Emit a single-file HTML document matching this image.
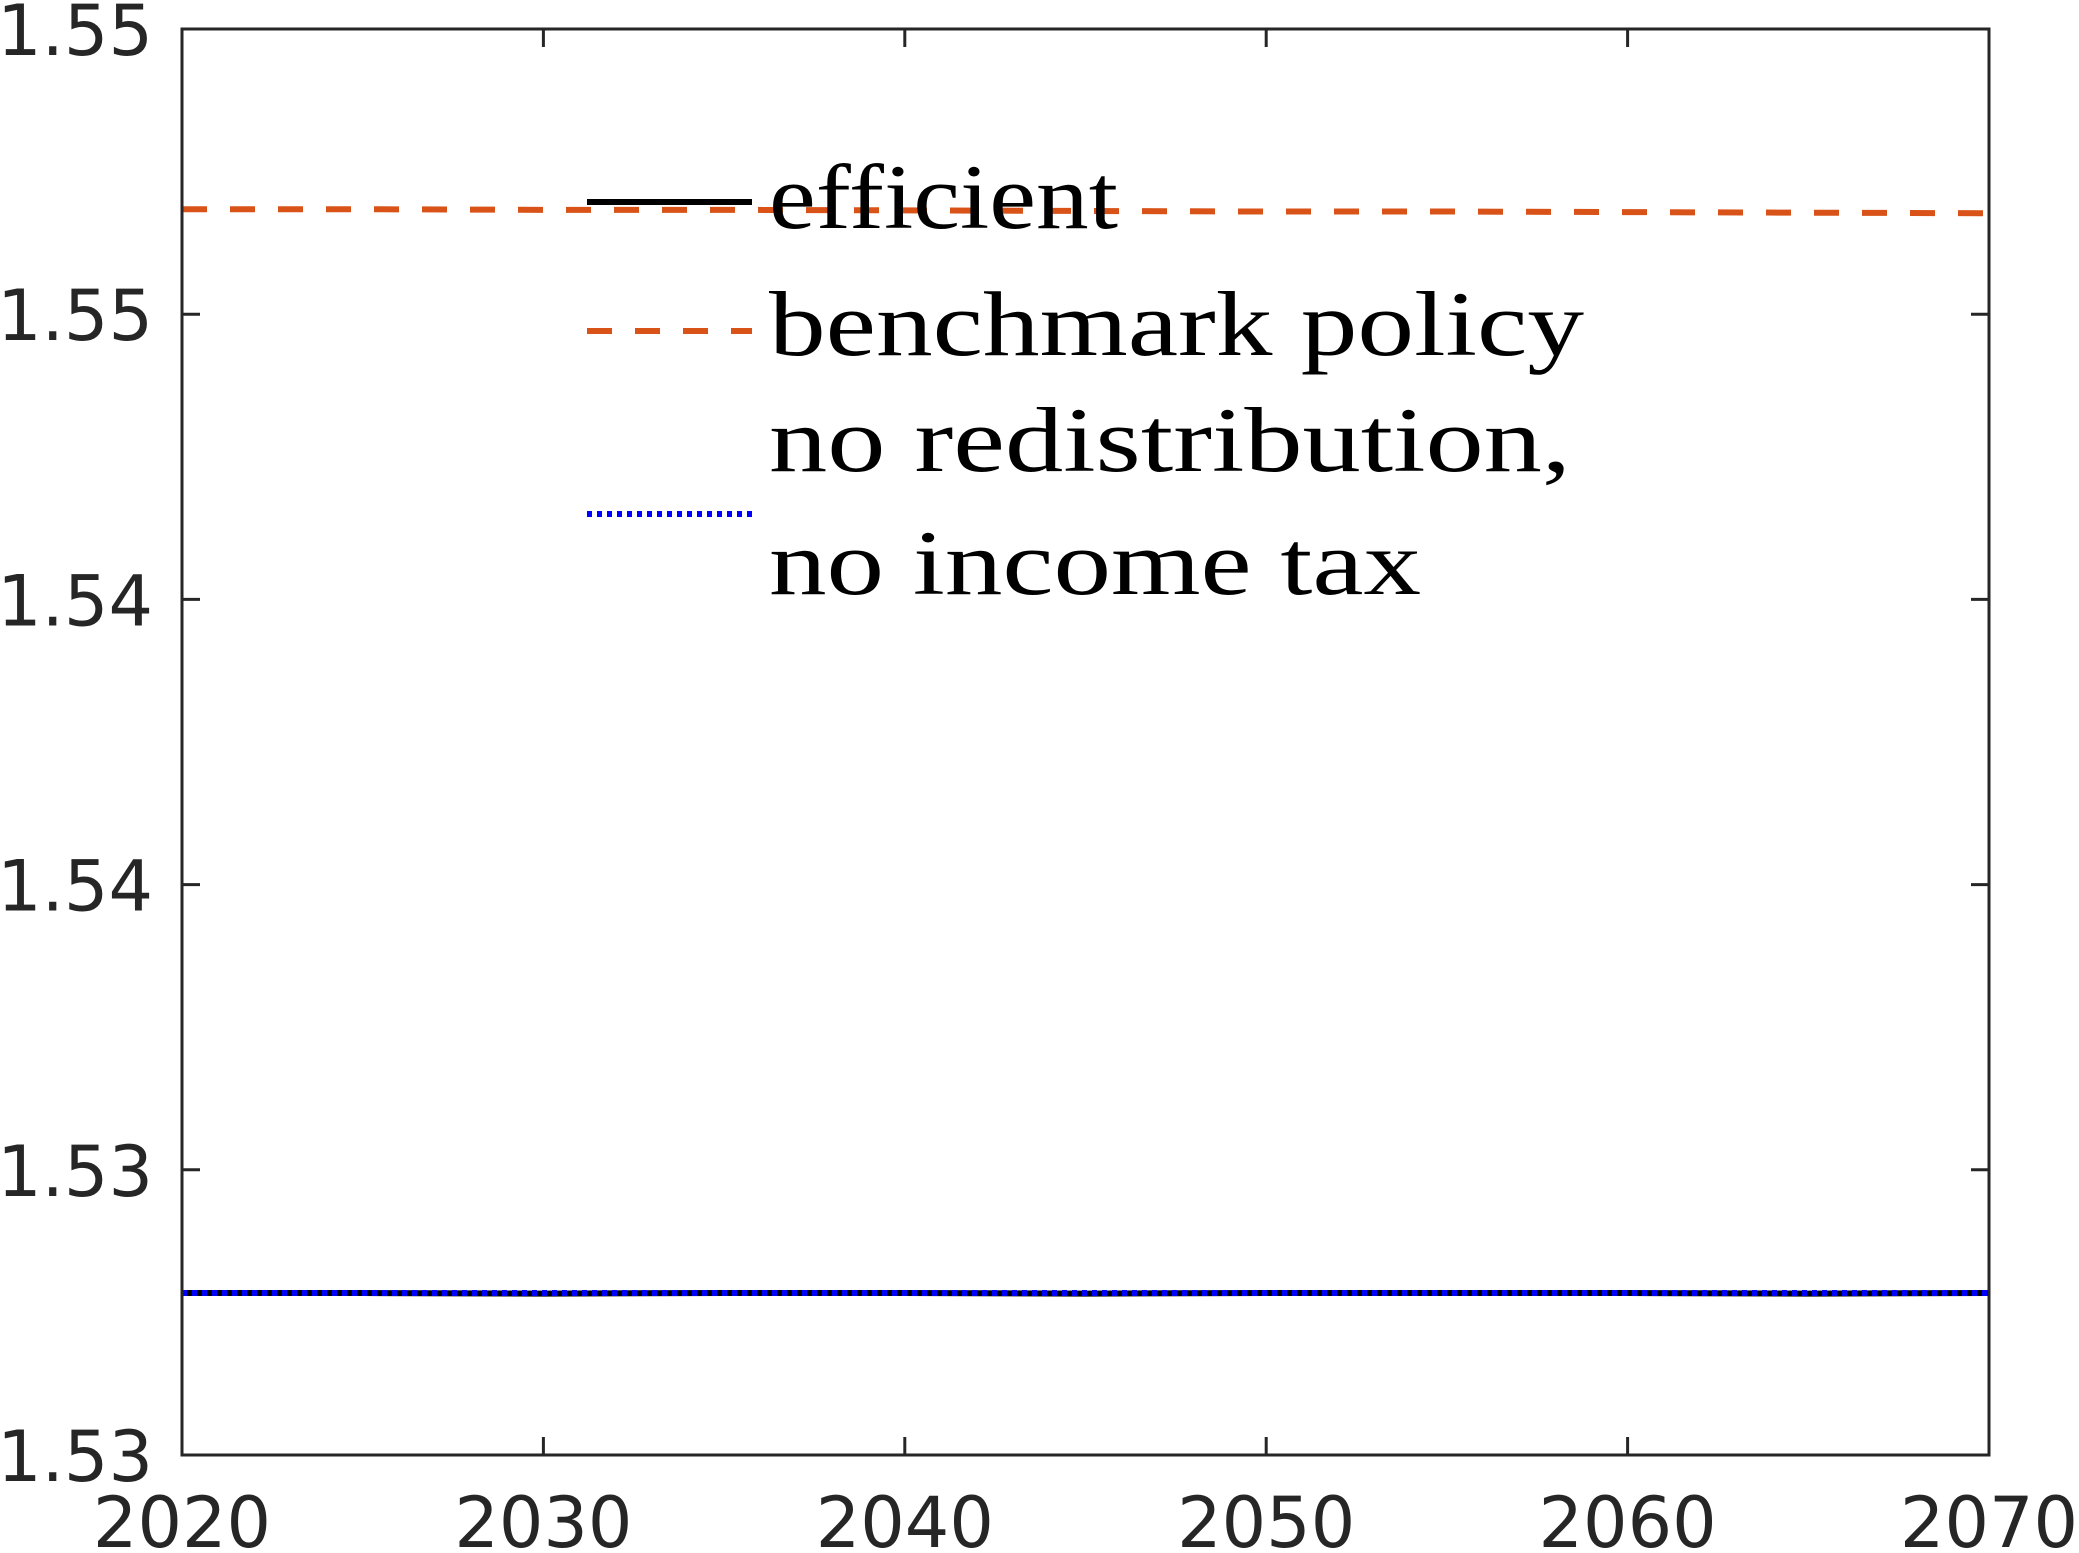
<!DOCTYPE html>
<html><head><meta charset="utf-8"><style>
html,body{margin:0;padding:0;background:#fff;}
svg{display:block;}
</style></head><body>
<svg id="chart" width="2079" height="1553" viewBox="0 0 2079 1553" xmlns="http://www.w3.org/2000/svg">
<rect x="0" y="0" width="2079" height="1553" fill="#fff"/>
<g id="plot"></g>
</svg>
<script>
const years = [2020,2025,2030,2035,2040,2045,2050,2055,2060,2065,2070];
const efficient = [1.52784,1.52784,1.52783,1.52784,1.52784,1.52783,1.52784,1.52784,1.52784,1.52783,1.52784];
const benchmark = [1.54684,1.54684,1.54683,1.54683,1.54682,1.54681,1.5468,1.5468,1.54679,1.54678,1.54677];
const noRedist = [1.52784,1.52784,1.52784,1.52784,1.52784,1.52784,1.52784,1.52784,1.52784,1.52784,1.52784];
const xTicks = [2020,2030,2040,2050,2060,2070];
const yTicks = [1.525,1.53,1.535,1.54,1.545,1.55];
const yTickLabels = ["1.53","1.53","1.54","1.54","1.55","1.55"];

const NS="http://www.w3.org/2000/svg";
const L=182,R=1989,T=29,B=1455;
const xMin=2020,xMax=2070,yMin=1.525,yMax=1.55;
function xs(v){return L+(v-xMin)/(xMax-xMin)*(R-L);}
function ys(v){return B-(v-yMin)/(yMax-yMin)*(B-T);}
const g=document.getElementById('plot');
function mk(tag,attrs){const e=document.createElementNS(NS,tag);for(const k in attrs)e.setAttribute(k,attrs[k]);g.appendChild(e);return e;}

function series(vals,stroke,w,dash,name){
  const d=vals.map((v,i)=>(i?'L':'M')+xs(years[i]).toFixed(2)+' '+ys(v).toFixed(2)).join(' ');
  const p=mk('path',{d:d,fill:'none',stroke:stroke,'stroke-width':w});
  if(dash)p.setAttribute('stroke-dasharray',dash);
  
  
}
series(efficient,'#000',6,null,'efficient-line');
series(benchmark,'#D95319',6,'25 23','benchmark-policy-line');
series(noRedist,'#0000FF',6,'5 5','no-redistribution-line');

const box=mk('rect',{x:L,y:T,width:R-L,height:B-T,fill:'none',stroke:'#262626','stroke-width':3});



xTicks.forEach(t=>{
  const x=xs(t);
  const a=mk('line',{x1:x,y1:B,x2:x,y2:B-18,stroke:'#262626','stroke-width':3});
  
  
  const b=mk('line',{x1:x,y1:T,x2:x,y2:T+18,stroke:'#262626','stroke-width':3});
  
  
  const tx=mk('text',{x:x,y:1547,'text-anchor':'middle','font-family':'"DejaVu Sans","Liberation Sans",sans-serif','font-size':70,fill:'#262626'});
  tx.textContent=String(t);
  
  
});
yTicks.forEach((t,i)=>{
  const y=ys(t);
  const a=mk('line',{x1:L,y1:y,x2:L+18,y2:y,stroke:'#262626','stroke-width':3});
  
  
  const b=mk('line',{x1:R,y1:y,x2:R-18,y2:y,stroke:'#262626','stroke-width':3});
  
  
  const tx=mk('text',{x:153,y:y+26,'text-anchor':'end','font-family':'"DejaVu Sans","Liberation Sans",sans-serif','font-size':70,fill:'#262626'});
  tx.textContent=yTickLabels[i];
  
  
});

const lg=[
 {y:202,stroke:'#000',dash:null,name:'legend-efficient'},
 {y:331,stroke:'#D95319',dash:'25 23',name:'legend-benchmark'},
 {y:514,stroke:'#0000FF',dash:'5 5',name:'legend-no-redistribution'}
];
lg.forEach(o=>{
  const l=mk('line',{x1:587,y1:o.y,x2:752,y2:o.y,stroke:o.stroke,'stroke-width':6});
  if(o.dash)l.setAttribute('stroke-dasharray',o.dash);
  
  
});
const texts=[["efficient",228,349],["benchmark policy",355,815],["no redistribution,",471,802],["no income tax",594,652]];
texts.forEach(t=>{
  const e=mk('text',{x:769,y:t[1],'font-family':'"Liberation Serif",serif','font-size':92,fill:'#000',textLength:t[2],lengthAdjust:'spacingAndGlyphs'});
  e.textContent=t[0];
  
  
});
</script>
</body></html>
